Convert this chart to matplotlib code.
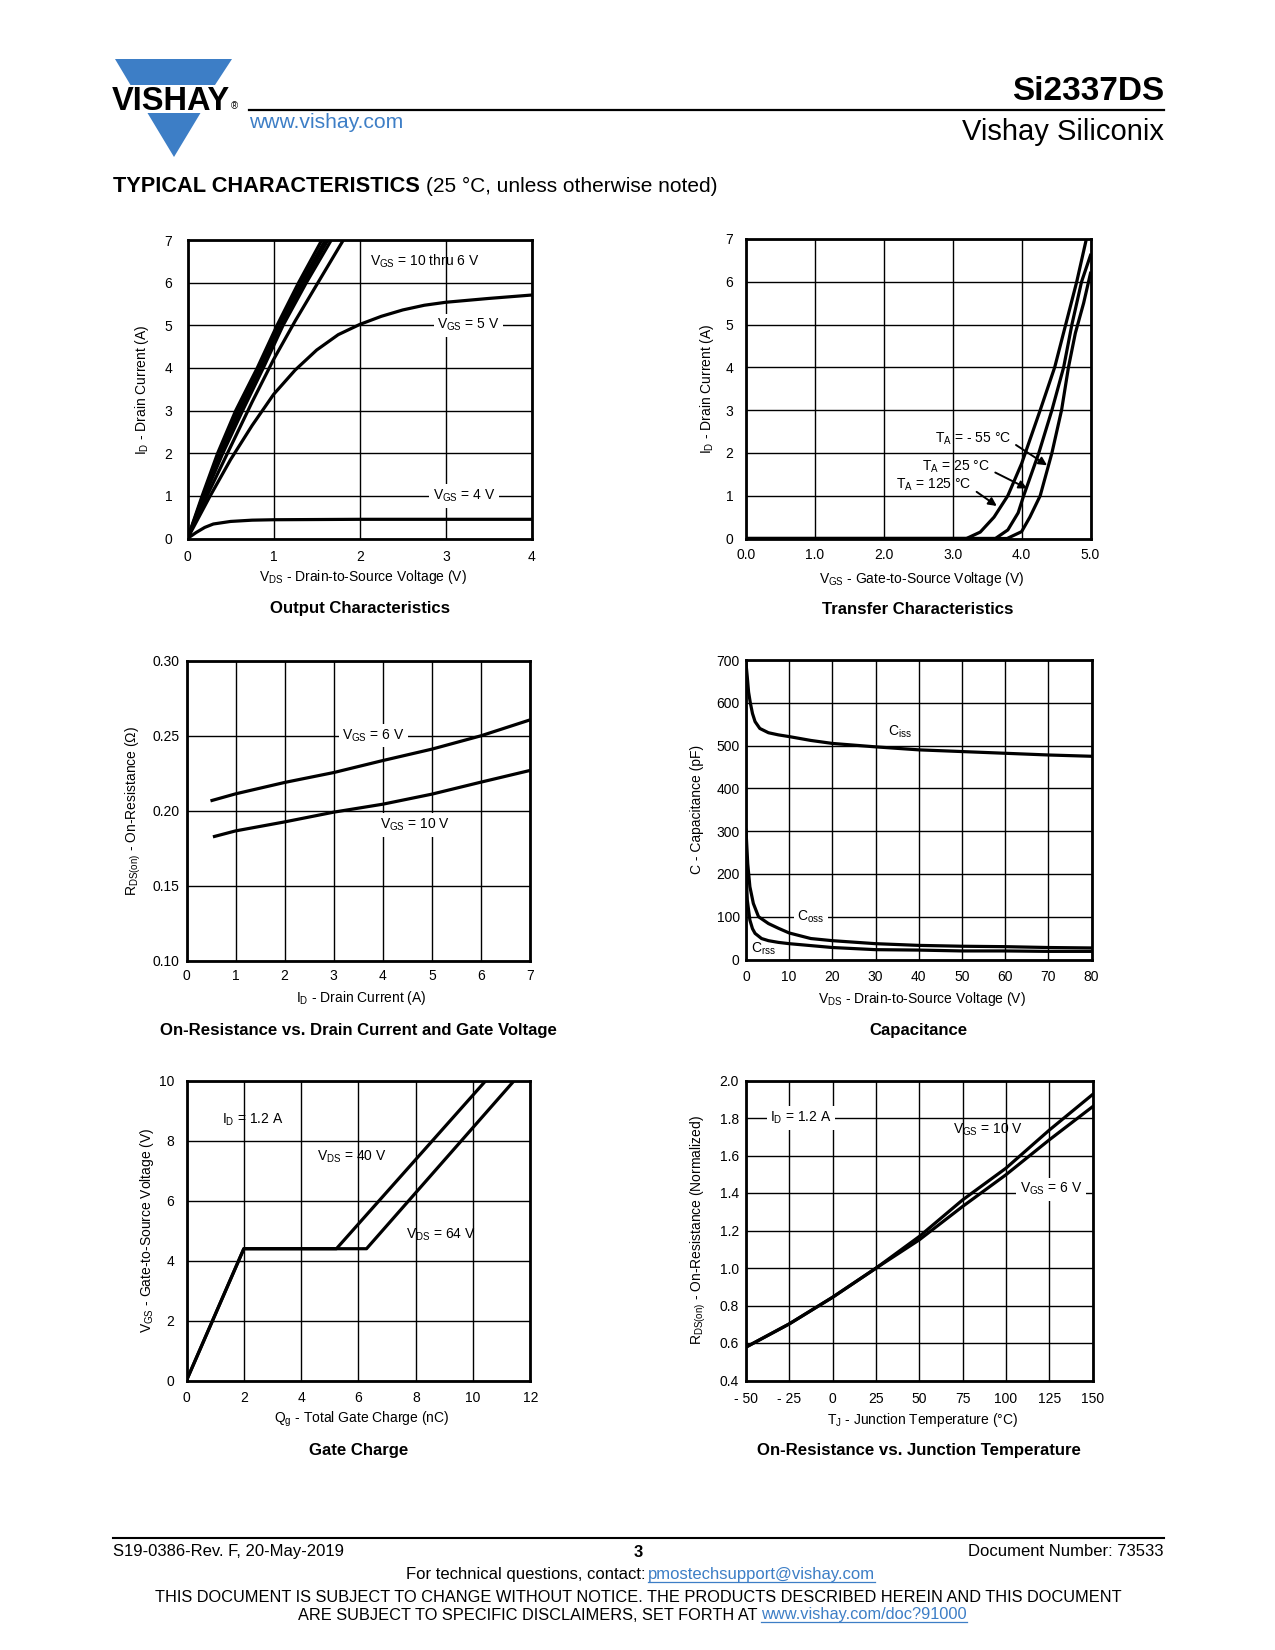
import numpy as np
import matplotlib.pyplot as plt

plt.rcParams['font.family'] = ['Liberation Sans', 'DejaVu Sans']
plt.rcParams['mathtext.fontset'] = 'custom'
plt.rcParams['mathtext.rm'] = 'Liberation Sans'
plt.rcParams['mathtext.it'] = 'Liberation Sans:italic'
plt.rcParams['mathtext.bf'] = 'Liberation Sans:bold'

W, H = 1275, 1650
BLUE = '#3d7ec6'

# ---- output characteristics (VDS [V] -> ID [A]) ----
out_id_lin = [0, 1, 2, 3, 4, 5, 6, 7]
out_vds_10 = [0, 0.17, 0.35, 0.56, 0.81, 1.04, 1.29, 1.56]
out_vds_9 = [0, 0.18, 0.37, 0.58, 0.83, 1.06, 1.32, 1.60]
out_vds_8 = [0, 0.19, 0.39, 0.61, 0.85, 1.08, 1.35, 1.63]
out_vds_7 = [0, 0.20, 0.41, 0.64, 0.88, 1.11, 1.38, 1.67]
out_vds_6 = [0, 0.25, 0.5, 0.75, 1.0, 1.25, 1.5, 1.81]
out_id_6 = [0, 1.1, 2.15, 3.2, 4.2, 5.1, 5.95, 7.0]
out_vds_5 = [0, 0.25, 0.5, 0.75, 1.0, 1.25, 1.5, 1.75, 2.0, 2.25, 2.5, 2.75, 3.0, 3.5, 4.0]
out_id_5 = [0, 0.95, 1.85, 2.65, 3.38, 3.95, 4.42, 4.78, 5.02, 5.21, 5.36, 5.47, 5.54, 5.63, 5.71]
out_vds_4 = [0, 0.1, 0.2, 0.3, 0.5, 0.75, 1.0, 2.0, 4.0]
out_id_4 = [0, 0.14, 0.26, 0.34, 0.40, 0.43, 0.44, 0.45, 0.45]

# ---- transfer characteristics (VGS [V] -> ID [A]) ----
tr_vgs_125 = [0, 3.2, 3.4, 3.6, 3.8, 4.0, 4.27, 4.48, 4.64, 4.8, 4.94]
tr_id_125 = [0, 0, 0.15, 0.5, 1.0, 1.75, 3.0, 4.0, 5.0, 6.0, 7.0]
tr_vgs_25 = [0, 3.62, 3.8, 3.95, 4.03, 4.25, 4.44, 4.61, 4.73, 4.87, 5.0]
tr_id_25 = [0, 0, 0.2, 0.6, 1.0, 2.0, 3.0, 4.0, 5.0, 6.0, 6.62]
tr_vgs_m55 = [0, 3.79, 4.0, 4.12, 4.27, 4.44, 4.58, 4.68, 4.78, 4.9, 5.0]
tr_id_m55 = [0, 0, 0.16, 0.5, 1.0, 2.0, 3.0, 4.0, 4.8, 5.5, 6.2]

# ---- on-resistance vs drain current ----
ron_id_6 = [0.52, 1, 2, 3, 4, 5, 6, 7]
ron_6 = [0.2067, 0.2111, 0.2187, 0.2253, 0.2333, 0.2409, 0.2498, 0.2604]
ron_id_10 = [0.57, 1, 2, 3, 4, 5, 6, 7]
ron_10 = [0.1827, 0.1864, 0.1924, 0.1989, 0.2042, 0.2109, 0.2189, 0.2267]

# ---- capacitance (VDS [V] -> pF) ----
cap_vds_iss = [0, 0.3, 0.6, 1.0, 1.5, 2.1, 3.2, 5.2, 7.5, 10, 15, 20, 30, 40, 50, 60, 70, 80]
ciss = [692, 660, 625, 600, 575, 556, 540, 530, 525, 521, 512, 505, 497, 490, 486, 482, 478, 475]
cap_vds_oss = [0, 0.4, 0.9, 1.7, 2.9, 5.2, 7.5, 10, 15, 20, 30, 40, 50, 60, 70, 80]
coss = [302, 224, 170, 131, 100, 84, 73, 62, 49, 44, 37, 33, 31, 30, 28, 27]
cap_vds_rss = [0, 0.3, 0.9, 1.5, 2.1, 3.6, 5.2, 7.5, 10, 20, 30, 40, 50, 60, 70, 80]
crss = [209, 139, 92, 72, 61, 49, 44, 40, 37, 28, 23, 22, 20, 20, 19, 19]

# ---- gate charge ----
qg_40 = [0, 2.0, 5.23, 10.43]
vgs_40 = [0, 4.4, 4.4, 10]
qg_64 = [0, 2.0, 6.28, 11.42]
vgs_64 = [0, 4.4, 4.4, 10]

# ---- on-resistance vs junction temperature ----
tj = [-50, -25, 0, 25, 50, 75, 100, 125, 150]
rn_10 = [0.578, 0.702, 0.844, 0.999, 1.168, 1.363, 1.532, 1.735, 1.925]
rn_6 = [0.578, 0.702, 0.844, 0.999, 1.150, 1.328, 1.497, 1.683, 1.860]

tj_ticks = [-50, -25, 0, 25, 50, 75, 100, 125, 150]
tj_labels = ['- 50', '- 25', '0', '25', '50', '75', '100', '125', '150']


def box(l, t, r, b):
    return [l / W, 1 - b / H, (r - l) / W, (b - t) / H]


fig = plt.figure(figsize=(W / 100, H / 100), dpi=100)

# page overlay in pixel coordinates
pg = fig.add_axes([0, 0, 1, 1])
pg.set_xlim(0, W)
pg.set_ylim(H, 0)
pg.axis('off')

# logo
pg.add_patch(plt.Polygon([(115, 59), (232, 59), (215, 85), (130.5, 85)], color=BLUE, lw=0))
pg.add_patch(plt.Polygon([(147.5, 113), (200.5, 113), (174, 157)], color=BLUE, lw=0))
t_logo = pg.text(112, 110, 'VISHAY', fontsize=23.5, fontweight='bold', ha='left', va='baseline')
pg.text(249, 128.5, 'www.vishay.com', fontsize=15.2, color=BLUE, ha='left', va='baseline')
pg.plot([249, 1164], [110, 110], color='black', lw=1.6)
pg.text(1164, 100, 'Si2337DS', fontsize=24, fontweight='bold', ha='right', va='baseline')
pg.text(1164, 140, 'Vishay Siliconix', fontsize=21, ha='right', va='baseline')
t_head = pg.text(113, 192, 'TYPICAL CHARACTERISTICS', fontsize=15.7, fontweight='bold',
                 ha='left', va='baseline')

# footer
FS = 12
pg.plot([113, 1164], [1538, 1538], color='black', lw=1.5)
pg.text(113, 1556, 'S19-0386-Rev. F, 20-May-2019', fontsize=FS, ha='left', va='baseline')
pg.text(638, 1557, '3', fontsize=FS, fontweight='bold', ha='center', va='baseline')
pg.text(1164, 1556, 'Document Number: 73533', fontsize=FS, ha='right', va='baseline')
pg.text(645, 1579.5, 'For technical questions, contact:', fontsize=FS, ha='right', va='baseline')
link1 = pg.text(648, 1579.5, 'pmostechsupport@vishay.com', fontsize=FS, color=BLUE,
                ha='left', va='baseline')
pg.text(638, 1602.5, 'THIS DOCUMENT IS SUBJECT TO CHANGE WITHOUT NOTICE. THE PRODUCTS DESCRIBED '
        'HEREIN AND THIS DOCUMENT', fontsize=11.75, ha='center', va='baseline')
pg.text(757, 1619.5, 'ARE SUBJECT TO SPECIFIC DISCLAIMERS, SET FORTH AT', fontsize=11.75,
        ha='right', va='baseline')
link2 = pg.text(761, 1619.5, 'www.vishay.com/doc?91000', fontsize=11.75, color=BLUE,
                ha='left', va='baseline')


def setup(ax, xlim, ylim, xt, yt, xl=None, yl=None, xpad=8, ypad=8):
    ax.set_xlim(*xlim)
    ax.set_ylim(*ylim)
    if xl is None:
        ax.set_xticks(xt)
    else:
        ax.set_xticks(xt, xl)
    if yl is None:
        ax.set_yticks(yt)
    else:
        ax.set_yticks(yt, yl)
    ax.grid(True, color='black', lw=1.0)
    ax.set_axisbelow(True)
    ax.tick_params(axis='x', length=0, labelsize=10, pad=xpad)
    ax.tick_params(axis='y', length=0, labelsize=10, pad=ypad)
    for s in ax.spines.values():
        s.set_linewidth(2.0)


def labels(pos, xlab, ylab, ylab_x, xlab_y, title, title_y):
    l, t, r, b = pos
    cx = (l + r) / 2 + 3
    pg.text(cx, xlab_y, xlab, fontsize=10, ha='center', va='center')
    pg.text(ylab_x, (t + b) / 2, ylab, fontsize=10, rotation=90, ha='center', va='center')
    pg.text((l + r) / 2, title_y, title, fontsize=12.1, fontweight='bold', ha='center', va='center')


LW = 2.3
wbox = dict(facecolor='white', edgecolor='none', pad=2.5)

# 1: output characteristics
p1 = (187.5, 240, 532, 538.5)
ax1 = fig.add_axes(box(*p1))
setup(ax1, (0, 4), (0, 7), [0, 1, 2, 3, 4], range(8), xpad=8, ypad=11)
for xs in (out_vds_10, out_vds_9, out_vds_8, out_vds_7):
    ax1.plot(xs, out_id_lin, color='black', lw=LW)
ax1.plot(out_vds_6, out_id_6, color='black', lw=LW)
ax1.plot(out_vds_5, out_id_5, color='black', lw=LW)
ax1.plot(out_vds_4, out_id_4, color='black', lw=LW)
ax1.text(2.12, 6.5, r'V$_{\mathrm{GS}}$ = 10 thru 6 V', fontsize=10, ha='left', va='center')
ax1.text(2.9, 5.0, r'V$_{\mathrm{GS}}$ = 5 V', fontsize=10, ha='left', va='center', bbox=wbox)
ax1.text(2.85, 1.0, r'V$_{\mathrm{GS}}$ = 4 V', fontsize=10, ha='left', va='center', bbox=wbox)
labels(p1, r'V$_{\mathrm{DS}}$ - Drain-to-Source Voltage (V)', r'I$_{\mathrm{D}}$ - Drain Current (A)',
       142, 577.5, 'Output Characteristics', 609)

# 2: transfer characteristics
p2 = (746, 239, 1090.5, 538.5)
ax2 = fig.add_axes(box(*p2))
setup(ax2, (0, 5), (0, 7), [0, 1, 2, 3, 4, 5], range(8),
      xl=['0.0', '1.0', '2.0', '3.0', '4.0', '5.0'], xpad=7, ypad=9)
ax2.plot(tr_vgs_125, tr_id_125, color='black', lw=LW)
ax2.plot(tr_vgs_25, tr_id_25, color='black', lw=LW)
ax2.plot(tr_vgs_m55, tr_id_m55, color='black', lw=LW)
arw = dict(arrowstyle='-|>', color='black', lw=1.4, mutation_scale=12, shrinkA=2, shrinkB=0,
           relpos=(1.0, 0.3))
ax2.annotate(r'T$_{\mathrm{A}}$ = - 55 °C', xy=(4.37, 1.71), xytext=(2.74, 2.34), fontsize=10,
             ha='left', va='center', arrowprops=arw)
ax2.annotate(r'T$_{\mathrm{A}}$ = 25 °C', xy=(4.08, 1.17), xytext=(2.56, 1.68), fontsize=10,
             ha='left', va='center', arrowprops=arw)
ax2.annotate(r'T$_{\mathrm{A}}$ = 125 °C', xy=(3.64, 0.76), xytext=(2.18, 1.25), fontsize=10,
             ha='left', va='center', arrowprops=arw)
labels(p2, r'V$_{\mathrm{GS}}$ - Gate-to-Source Voltage (V)', r'I$_{\mathrm{D}}$ - Drain Current (A)',
       707, 578.5, 'Transfer Characteristics', 609)

# 3: on-resistance vs drain current
p3 = (186.5, 660.5, 530, 960.5)
ax3 = fig.add_axes(box(*p3))
setup(ax3, (0, 7), (0.10, 0.30), range(8), [0.10, 0.15, 0.20, 0.25, 0.30],
      yl=['0.10', '0.15', '0.20', '0.25', '0.30'], xpad=6.3, ypad=5)
ax3.plot(ron_id_6, ron_6, color='black', lw=LW)
ax3.plot(ron_id_10, ron_10, color='black', lw=LW)
ax3.text(3.17, 0.25, r'V$_{\mathrm{GS}}$ = 6 V', fontsize=10, ha='left', va='center', bbox=wbox)
ax3.text(3.95, 0.1904, r'V$_{\mathrm{GS}}$ = 10 V', fontsize=10, ha='left', va='center', bbox=wbox)
labels(p3, r'I$_{\mathrm{D}}$ - Drain Current (A)', r'R$_{\mathrm{DS(on)}}$ - On-Resistance ($\Omega$)',
       133, 998, 'On-Resistance vs. Drain Current and Gate Voltage', 1030.5)

# 4: capacitance
p4 = (746, 660, 1091.5, 959.5)
ax4 = fig.add_axes(box(*p4))
setup(ax4, (0, 80), (0, 700), range(0, 81, 10), range(0, 701, 100), xpad=7.7, ypad=4.5)
ax4.plot(cap_vds_iss, ciss, color='black', lw=LW)
ax4.plot(cap_vds_oss, coss, color='black', lw=LW)
ax4.plot(cap_vds_rss, crss, color='black', lw=LW)
ax4.text(32.8, 532, r'C$_{\mathrm{iss}}$', fontsize=10, ha='left', va='center')
ax4.text(11.9, 100, r'C$_{\mathrm{oss}}$', fontsize=10, ha='left', va='center', bbox=wbox)
ax4.text(1.2, 24, r'C$_{\mathrm{rss}}$', fontsize=10, ha='left', va='center')
labels(p4, r'V$_{\mathrm{DS}}$ - Drain-to-Source Voltage (V)', 'C - Capacitance (pF)',
       696.5, 999, 'Capacitance', 1030.5)

# 5: gate charge
p5 = (186.5, 1081, 530.5, 1380.5)
ax5 = fig.add_axes(box(*p5))
setup(ax5, (0, 12), (0, 10), range(0, 13, 2), range(0, 11, 2), xpad=7.3, ypad=9)
ax5.plot(qg_40, vgs_40, color='black', lw=LW)
ax5.plot(qg_64, vgs_64, color='black', lw=LW)
ax5.text(1.24, 8.7, r'I$_{\mathrm{D}}$ = 1.2 A', fontsize=10, ha='left', va='center')
ax5.text(4.56, 7.47, r'V$_{\mathrm{DS}}$ = 40 V', fontsize=10, ha='left', va='center')
ax5.text(7.64, 4.86, r'V$_{\mathrm{DS}}$ = 64 V', fontsize=10, ha='left', va='center')
labels(p5, r'Q$_{\mathrm{g}}$ - Total Gate Charge (nC)', r'V$_{\mathrm{GS}}$ - Gate-to-Source Voltage (V)',
       146.5, 1419, 'Gate Charge', 1451)

# 6: on-resistance vs junction temperature
p6 = (746, 1080.5, 1092.5, 1380.5)
ax6 = fig.add_axes(box(*p6))
setup(ax6, (-50, 150), (0.4, 2.0), tj_ticks, np.arange(0.4, 2.01, 0.2), xl=tj_labels,
      yl=['0.4', '0.6', '0.8', '1.0', '1.2', '1.4', '1.6', '1.8', '2.0'], xpad=8, ypad=5)
ax6.plot(tj, rn_10, color='black', lw=LW)
ax6.plot(tj, rn_6, color='black', lw=LW)
ax6.text(-36, 1.8, r'I$_{\mathrm{D}}$ = 1.2 A', fontsize=10, ha='left', va='center', bbox=wbox)
ax6.text(69.6, 1.737, r'V$_{\mathrm{GS}}$ = 10 V', fontsize=10, ha='left', va='center')
ax6.text(108, 1.42, r'V$_{\mathrm{GS}}$ = 6 V', fontsize=10, ha='left', va='center', bbox=wbox)
labels(p6, r'T$_{\mathrm{J}}$ - Junction Temperature (°C)',
       r'R$_{\mathrm{DS(on)}}$ - On-Resistance (Normalized)',
       698.6, 1420, 'On-Resistance vs. Junction Temperature', 1451)

# pieces that depend on rendered text widths
fig.canvas.draw()
r = fig.canvas.get_renderer()
inv = pg.transData.inverted()
bb = inv.transform(t_logo.get_window_extent(r))
pg.text(max(bb[:, 0]) + 0.5, 109, '®', fontsize=7, ha='left', va='baseline')
bb = inv.transform(t_head.get_window_extent(r))
pg.text(max(bb[:, 0]) + 6, 192, '(25 °C, unless otherwise noted)', fontsize=15,
        ha='left', va='baseline')
for lk, y in ((link1, 1581.5), (link2, 1621.5)):
    bb = inv.transform(lk.get_window_extent(r))
    pg.plot([min(bb[:, 0]), max(bb[:, 0])], [y, y], color=BLUE, lw=0.9)

fig.savefig('out.png', dpi=100)
